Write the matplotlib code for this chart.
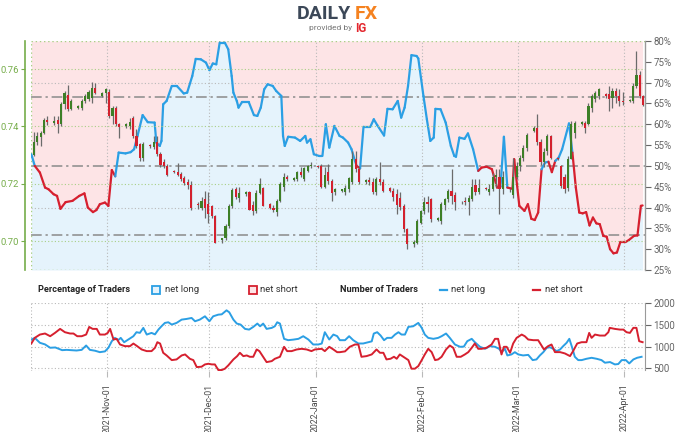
import matplotlib
matplotlib.use("Agg")
import matplotlib.pyplot as plt
import matplotlib.dates as mdates
from matplotlib.collections import LineCollection
from matplotlib.patches import Rectangle
from matplotlib.lines import Line2D
import numpy as np
import pandas as pd

# ---------------------------------------------------------------- data
START = "2021-10-10"          # day 0 of the day offsets below
X_RANGE_DAYS = (-0.1, 179.2)
MONTH_TICKS = ["2021-11-01", "2021-12-01", "2022-01-01", "2022-02-01",
               "2022-03-01", "2022-04-01"]

# daily candles, Sunday..Friday sessions, 2021-10-11 .. 2022-04-07
CANDLE_FIRST = "2021-10-11"
CANDLE_LAST = "2022-04-07"
OPEN = [
    .7301, .7345, .7362, .7376, .7424,
    .7413, .7424, .7407, .7477, .7511, .7459,
    .7465, .7465, .7488, .7494, .7500, .7535,
    .7506, .7517, .7520, .7436, .7465, .7407,
    .7400, .7401, .7430, .7366, .7337, .7291,
    .7334, .7328, .7345, .7302, .7275, .7262,
    .7245, .7240, .7233, .7220, .7205, .7195,
    .7130, .7115, .7145, .7128, .7122, .7087,
    .7003, .7010, .7052, .7122, .7180, .7150,
    .7163, .7170, .7125, .7105, .7168, .7185,
    .7130, .7115, .7100, .7140, .7190, .7225,
    .7214, .7215, .7240, .7215, .7245, .7262,
    .7262, .7262, .7190, .7240, .7210, .7170,
    .7175, .7170, .7180, .7205, .7285, .7250,
    .7205, .7212, .7205, .7170, .7215, .7205,
    .7185, .7176, .7163, .7150, .7122, .7041,
    .6990, .6994, .7064, .7105, .7138, .7145,
    .7075, .7070, .7125, .7145, .7175, .7160,
    .7135, .7140, .7135, .7145, .7195, .7172,
    .7185, .7170, .7180, .7225, .7225, .7180,
    .7185, .7160, .7222, .7262, .7290, .7325,
    .7385, .7395, .7345, .7275, .7314, .7366,
    .7290, .7262, .7225, .7186, .7287, .7378,
    .7410, .7411, .7410, .7465, .7494, .7506,
    .7512, .7512, .7500, .7523, .7506, .7490,
    .7488, .7490, .7541, .7581, .7506,
]
HIGH = [
    .7380, .7380, .7384, .7430, .7438,
    .7436, .7436, .7485, .7523, .7546, .7494,
    .7474, .7494, .7512, .7526, .7555, .7552,
    .7520, .7535, .7529, .7471, .7471, .7413,
    .7413, .7430, .7436, .7390, .7343, .7345,
    .7338, .7366, .7366, .7310, .7285, .7270,
    .7248, .7273, .7240, .7227, .7215, .7210,
    .7135, .7155, .7175, .7170, .7125, .7090,
    .7012, .7058, .7128, .7186, .7190, .7187,
    .7175, .7175, .7140, .7178, .7220, .7190,
    .7133, .7125, .7147, .7207, .7237, .7230,
    .7222, .7245, .7260, .7258, .7265, .7277,
    .7266, .7270, .7260, .7270, .7215, .7185,
    .7183, .7195, .7225, .7315, .7315, .7262,
    .7215, .7225, .7220, .7225, .7276, .7215,
    .7188, .7185, .7180, .7170, .7130, .7046,
    .7002, .7076, .7110, .7152, .7158, .7150,
    .7083, .7135, .7150, .7180, .7250, .7170,
    .7140, .7155, .7160, .7215, .7215, .7215,
    .7188, .7200, .7238, .7250, .7250, .7245,
    .7190, .7290, .7275, .7300, .7335, .7378,
    .7400, .7442, .7355, .7325, .7372, .7370,
    .7295, .7267, .7235, .7296, .7419, .7419,
    .7418, .7418, .7480, .7512, .7524, .7535,
    .7518, .7541, .7535, .7535, .7529, .7520,
    .7495, .7552, .7663, .7593, .7510,
]
LOW = [
    .7297, .7335, .7330, .7372, .7404,
    .7405, .7378, .7403, .7462, .7453, .7457,
    .7462, .7457, .7480, .7488, .7483, .7512,
    .7503, .7483, .7430, .7407, .7401, .7360,
    .7395, .7390, .7360, .7325, .7279, .7280,
    .7326, .7320, .7297, .7260, .7255, .7226,
    .7238, .7227, .7210, .7196, .7180, .7110,
    .7112, .7110, .7082, .7064, .7080, .6993,
    .6994, .7004, .7047, .7116, .7145, .7136,
    .7158, .7110, .7090, .7097, .7163, .7123,
    .7112, .7100, .7088, .7135, .7175, .7210,
    .7210, .7210, .7225, .7210, .7240, .7255,
    .7255, .7185, .7185, .7200, .7140, .7160,
    .7170, .7160, .7170, .7200, .7240, .7200,
    .7200, .7195, .7165, .7160, .7195, .7170,
    .7172, .7140, .7093, .7110, .7030, .6971,
    .6980, .6990, .7060, .7095, .7102, .7066,
    .7070, .7060, .7110, .7135, .7130, .7110,
    .7130, .7125, .7090, .7140, .7160, .7165,
    .7178, .7160, .7175, .7190, .7095, .7165,
    .7170, .7150, .7215, .7245, .7280, .7315,
    .7380, .7335, .7265, .7260, .7300, .7285,
    .7282, .7186, .7168, .7175, .7285, .7360,
    .7405, .7378, .7405, .7450, .7485, .7494,
    .7500, .7453, .7465, .7483, .7471, .7475,
    .7485, .7483, .7535, .7500, .7470,
]
CLOSE = [
    .7345, .7368, .7376, .7422, .7416,
    .7420, .7407, .7477, .7517, .7459, .7488,
    .7472, .7488, .7506, .7520, .7535, .7515,
    .7517, .7529, .7436, .7465, .7407, .7399,
    .7410, .7415, .7366, .7331, .7291, .7340,
    .7330, .7345, .7302, .7267, .7262, .7229,
    .7240, .7232, .7215, .7203, .7195, .7116,
    .7127, .7140, .7117, .7093, .7087, .6994,
    .7010, .7052, .7122, .7178, .7152, .7169,
    .7170, .7110, .7105, .7168, .7198, .7124,
    .7115, .7110, .7140, .7198, .7222, .7215,
    .7220, .7240, .7230, .7255, .7262, .7265,
    .7258, .7190, .7230, .7210, .7168, .7180,
    .7180, .7185, .7220, .7285, .7250, .7205,
    .7212, .7205, .7170, .7215, .7205, .7175,
    .7176, .7155, .7125, .7120, .7042, .6988,
    .6998, .7070, .7105, .7138, .7130, .7078,
    .7080, .7128, .7145, .7175, .7157, .7135,
    .7138, .7135, .7150, .7190, .7172, .7185,
    .7180, .7180, .7225, .7230, .7180, .7225,
    .7180, .7222, .7262, .7290, .7325, .7370,
    .7395, .7345, .7275, .7310, .7366, .7290,
    .7285, .7192, .7183, .7287, .7407, .7413,
    .7415, .7395, .7471, .7506, .7515, .7529,
    .7506, .7494, .7523, .7506, .7488, .7485,
    .7492, .7541, .7581, .7506, .7475,
]

# client sentiment: share of traders net long (%)
SENT_DAY = [
    0, 1, 2.5, 4, 5, 6.5, 7.5, 8.5, 10, 12,
    14, 15.5, 16.5, 18, 19, 20, 21.5, 22.5, 23.5, 24.5,
    25.5, 27.5, 29, 30, 31, 32.5, 34, 36, 36.5, 37.5,
    38, 38.5, 39.5, 41, 42.5, 44.5, 45.5, 47, 48, 49.5,
    51, 52, 53, 54, 55, 56.5, 57.5, 58.5, 59, 60,
    60.5, 61.5, 63.5, 65, 66, 67, 68, 69, 70.5, 71.5,
    73, 73.5, 74, 75, 77, 78.5, 80, 80.5, 81.5, 82.5,
    84, 85, 86, 87, 88.5, 90, 91, 92.5, 93.5, 94.5,
    95, 96, 97, 99, 100, 101, 103, 104, 105.5, 107,
    108, 109, 110, 111, 112.5, 113, 114.5, 115.5, 116.5, 117.5,
    118, 119.5, 121, 122.5, 123.5, 124, 125, 126.5, 127.5, 129,
    130.5, 131.5, 133, 134.5, 136, 137, 138, 139, 140.5, 141,
    142.5, 144, 145, 146, 147, 148, 149, 150, 151, 152,
    153, 154, 155, 157, 158, 159, 160, 161, 162, 163,
    164, 165, 166, 167, 168, 169, 170, 171, 172, 173.5,
    174.5, 176, 177, 178, 178.5,
]
SENT_LONG_PCT = [
    52.8, 50.0, 48.4, 44.8, 44.4, 43.2, 42.8, 39.7, 41.3, 41.6,
    42.8, 43.4, 40.0, 38.9, 39.4, 40.8, 41.2, 40.4, 49.0, 47.5,
    53.2, 53.0, 53.3, 54.0, 57.2, 62.2, 60.5, 60.4, 55.6, 54.8,
    56.0, 64.8, 65.6, 69.2, 69.2, 67.4, 67.6, 71.6, 75.7, 75.6,
    74.8, 73.0, 74.6, 74.4, 79.6, 79.6, 78.0, 71.6, 67.6, 65.6,
    64.0, 65.3, 65.3, 62.2, 62.0, 64.0, 68.4, 69.6, 69.2, 68.0,
    66.8, 57.2, 54.8, 57.0, 56.8, 56.0, 57.2, 55.6, 56.4, 52.8,
    52.4, 52.4, 60.0, 54.4, 59.6, 57.2, 56.8, 55.6, 54.0, 51.2,
    50.0, 49.4, 59.4, 59.4, 61.2, 59.8, 57.3, 63.7, 63.6, 65.6,
    61.6, 64.0, 69.2, 76.6, 76.4, 75.8, 66.8, 61.2, 56.0, 56.8,
    63.7, 63.6, 60.4, 54.8, 52.4, 52.2, 56.8, 56.5, 57.8, 54.0,
    48.8, 49.6, 49.8, 49.2, 44.8, 45.0, 57.0, 44.8, 44.5, 51.6,
    40.4, 39.2, 40.8, 37.3, 37.0, 38.8, 49.2, 50.8, 51.0, 48.5,
    51.2, 52.0, 54.0, 60.2, 53.2, 44.8, 38.8, 38.6, 38.9, 35.7,
    37.6, 36.2, 36.0, 33.2, 33.0, 30.0, 29.0, 29.2, 31.7, 31.7,
    32.2, 33.2, 33.3, 40.4, 40.5,
]

# number of traders
NUM_LONG_DAY = [
    0, 1, 2.5, 4, 5.5, 7, 9, 10.3, 13.2, 14.7,
    16, 17.1, 18.6, 20, 21.5, 22.5, 23.5, 24.4, 25.4, 26.1,
    27.1, 28.3, 29.8, 30.7, 31.7, 32.7, 33.7, 35.1, 36.1, 37.1,
    38, 39, 40, 41, 42.4, 43.9, 45.3, 46.8, 47.8, 49.2,
    50.7, 52, 53.1, 54.6, 55.6, 56.3, 57, 57.8, 59, 60,
    61.1, 62.4, 63.6, 64.8, 66, 66.8, 67.7, 68.7, 70.2, 71.1,
    71.8, 72.6, 73.8, 75, 76.5, 78, 79.4, 80.9, 82.3, 83.8,
    84.8, 85.7, 87, 88.2, 89.3, 90.1, 91.6, 92.8, 94, 95.5,
    96.9, 98.4, 99.4, 100, 101, 102, 103, 103.9, 105.2, 106.2,
    107.2, 108.1, 109.1, 110.1, 111.5, 113, 114, 114.9, 115.9, 117.4,
    118.8, 119.8, 121.1, 122.2, 123.7, 125.2, 126.3, 127.3, 128.6, 129.5,
    131, 132.5, 133.9, 135.4, 136.6, 137.3, 138.3, 139, 140.2, 141.2,
    142.2, 143.6, 145.1, 146.4, 147.5, 148.5, 149.5, 150.5, 151.4, 152.4,
    153.4, 154.4, 155.3, 156.3, 157.1, 157.8, 158.7, 159.7, 160.7, 162.1,
    163.6, 165.1, 166.5, 167.5, 169, 170.4, 171.4, 172.4, 173.6, 174.6,
    175.8, 176.9, 178.2,
]
NUM_LONG = [
    1162, 1200, 1087, 1050, 973, 980, 918, 925, 910, 925,
    1025, 925, 905, 872, 890, 973, 1124, 1200, 1150, 1200,
    1100, 1162, 1238, 1330, 1315, 1429, 1276, 1314, 1280, 1390,
    1466, 1543, 1558, 1505, 1543, 1619, 1634, 1657, 1581, 1619,
    1695, 1581, 1695, 1733, 1740, 1786, 1832, 1786, 1619, 1528,
    1505, 1406, 1390, 1451, 1528, 1466, 1528, 1406, 1429, 1466,
    1558, 1528, 1178, 1147, 1160, 1178, 1238, 1162, 1048, 1048,
    1070, 1330, 1162, 1276, 1240, 1147, 1147, 1238, 1147, 1071,
    1071, 1101, 1120, 1299, 1330, 1253, 1147, 1200, 1200, 1276,
    1330, 1276, 1276, 1452, 1466, 1543, 1429, 1276, 1200, 1178,
    1200, 1238, 1300, 1200, 1048, 995, 1000, 1124, 1178, 1101,
    995, 949, 1010, 995, 949, 872, 949, 797, 820, 872,
    820, 797, 810, 690, 705, 797, 872, 972, 985, 949,
    896, 934, 1010, 1086, 1178, 1010, 767, 690, 690, 720,
    743, 720, 690, 630, 645, 591, 600, 690, 690, 614,
    705, 743, 766,
]
NUM_SHORT_DAY = [
    0, 1, 2.5, 4, 5.5, 6.9, 8.4, 9.8, 11.3, 12.3,
    13.4, 14.7, 16, 16.9, 17.9, 19.1, 20, 21.5, 22.3, 23,
    24, 24.9, 25.9, 27.3, 28.8, 29.8, 30.9, 32.2, 33.7, 35.1,
    36.1, 36.8, 37.6, 38.5, 39.5, 41, 42.4, 43.9, 44.9, 46.3,
    47.3, 48.3, 49.7, 50.7, 51.7, 52.7, 53.6, 54.6, 55.6, 56.5,
    57.5, 59, 60.1, 60.9, 61.9, 62.9, 63.8, 64.8, 65.8, 66.6,
    67.7, 68.7, 70.2, 71.1, 72.6, 73.8, 74.7, 76, 77.5, 78.9,
    80.4, 81.8, 82.8, 84.8, 85.7, 87, 88.2, 89.3, 90.1, 91.6,
    93, 94.5, 95.5, 96.4, 97.9, 99.4, 100.8, 101.8, 102.8, 103.7,
    104.9, 105.9, 106.7, 107.6, 109.1, 110.1, 111, 112, 113, 114,
    114.9, 115.9, 116.9, 117.9, 118.8, 119.8, 121.1, 122.2, 123.2, 124.2,
    125.4, 126.6, 127.6, 128.6, 129.5, 130.5, 131.5, 132.9, 134.4, 135.4,
    136.3, 137.3, 138, 138.8, 139.8, 140.7, 141.7, 143.2, 144.1, 145.1,
    146.6, 148, 149.7, 150.9, 151.9, 152.9, 154.4, 155.8, 157.3, 158.2,
    159.4, 160.7, 162.1, 162.9, 163.6, 164.6, 166, 167.5, 168.5, 168.9,
    170.4, 171.9, 172.9, 173.8, 174.8, 175.8, 176.7, 177.5, 178.5,
]
NUM_SHORT = [
    1071, 1200, 1276, 1300, 1238, 1314, 1406, 1330, 1300, 1300,
    1238, 1238, 1276, 1451, 1406, 1406, 1276, 1276, 1314, 1406,
    1162, 1178, 1048, 1010, 1010, 1070, 1010, 934, 896, 896,
    972, 1101, 1070, 858, 797, 690, 705, 797, 820, 720,
    690, 530, 538, 591, 606, 591, 591, 462, 462, 492,
    568, 705, 781, 858, 781, 797, 766, 766, 934, 896,
    766, 644, 667, 720, 766, 995, 896, 896, 934, 949,
    934, 896, 934, 949, 896, 995, 934, 872, 872, 890,
    995, 1048, 1048, 766, 782, 820, 934, 858, 858, 706,
    721, 767, 721, 820, 743, 690, 493, 493, 553, 690,
    820, 949, 873, 690, 705, 766, 934, 1025, 972, 766,
    766, 820, 873, 972, 1070, 949, 949, 972, 1048, 1178,
    1178, 820, 995, 995, 858, 1071, 1200, 1276, 1238, 1162,
    1147, 1147, 934, 1010, 1048, 873, 873, 843, 782, 896,
    1071, 1101, 1101, 1314, 1200, 1276, 1253, 1253, 1330, 1430,
    1406, 1390, 1390, 1330, 1314, 1430, 1430, 1124, 1101,
]

PRICE_TICKS = [0.70, 0.72, 0.74, 0.76]
PCT_TICKS = [25, 30, 35, 40, 45, 50, 55, 60, 65, 70, 75, 80]
PCT_LEVELS = [100 / 3, 50, 200 / 3]
NUM_TICKS = [500, 1000, 1500, 2000]

# ---------------------------------------------------------------- style
PINK = "#fde4e6"
PALE_BLUE = "#e5f3fc"
BLUE = "#2b9fe4"
RED = "#d6202f"
C_UP = "#3d7f27"
C_DOWN = "#d3212e"
WICK = "#6b6b6b"
GREEN = "#76ad4a"
GREY = "#666666"
GRID = "#b9b9b9"

W_PX, H_PX = 679, 432
CANDLE_SHIFT = -0.3
CANDLE_WIDTH = 0.62


def box(x0, y0, x1, y1):
    return [x0 / W_PX, 1 - y1 / H_PX, (x1 - x0) / W_PX, (y1 - y0) / H_PX]


def main() -> None:
    plt.rcParams.update({"font.family": ["Roboto", "DejaVu Sans"], "font.size": 7})
    base = mdates.date2num(pd.Timestamp(START))
    xlim = (base + X_RANGE_DAYS[0], base + X_RANGE_DAYS[1])
    month_pos = mdates.date2num(pd.to_datetime(MONTH_TICKS))

    candle_days = pd.bdate_range(CANDLE_FIRST, CANDLE_LAST, freq="C",
                                 weekmask="Sun Mon Tue Wed Thu Fri")
    o, h, l, c = (np.array(v) for v in (OPEN, HIGH, LOW, CLOSE))
    cx = mdates.date2num(candle_days) + CANDLE_SHIFT

    fig = plt.figure(figsize=(W_PX / 100, H_PX / 100), dpi=100)

    # ------------------------------------------------ upper panel
    ax_pct = fig.add_axes(box(31, 41, 645, 270))
    ax_px = ax_pct.twinx()

    sx = base + np.array(SENT_DAY)
    sy = np.array(SENT_LONG_PCT)
    ax_pct.fill_between(sx, sy, 80, color=PINK, lw=0, zorder=0)
    ax_pct.fill_between(sx, 25, sy, color=PALE_BLUE, lw=0, zorder=0)
    for lev in PCT_LEVELS:
        ax_pct.axhline(lev, color="#8a8a8a", lw=1.1, ls=(0, (7, 2.5, 1.5, 2.5)), zorder=1)
    for lev in (40, 70):
        ax_pct.axhline(lev, color=GRID, lw=0.8, ls=(0, (1, 2)), zorder=1)

    pts = np.column_stack([sx, sy])
    segs = np.stack([pts[:-1], pts[1:]], axis=1)
    mid = (sy[:-1] + sy[1:]) / 2
    seg_cols = [BLUE if m >= 50 else RED for m in mid]
    ax_pct.add_collection(LineCollection(segs, colors=seg_cols, lw=1.6, zorder=2,
                                         capstyle="round", joinstyle="round"))
    ax_pct.set_ylim(25, 80)
    ax_pct.set_yticks(PCT_TICKS)
    ax_pct.set_yticklabels([f"{t}%" for t in PCT_TICKS])
    ax_pct.yaxis.tick_right()
    ax_pct.tick_params(axis="y", colors=GREY, labelcolor=GREY, length=4, width=0.8,
                       pad=2, labelsize=7)
    ax_pct.tick_params(axis="x", bottom=False, labelbottom=False)

    # candles
    ax_px.yaxis.tick_left()
    ax_px.vlines(cx, l, h, color=WICK, lw=0.9, zorder=3)
    body_h = np.maximum(np.abs(c - o), 0.00025)
    ax_px.bar(cx, body_h, bottom=np.minimum(o, c), width=CANDLE_WIDTH,
              color=np.where(c >= o, C_UP, C_DOWN), lw=0, zorder=4)
    ax_px.set_ylim(0.6899, 0.7698)
    ax_px.set_yticks(PRICE_TICKS)
    ax_px.set_yticklabels([f"{t:.2f}" for t in PRICE_TICKS])
    ax_px.tick_params(axis="y", colors=GREEN, labelcolor=GREEN, length=3, width=0.8,
                      pad=1.5, labelsize=6.8)
    for t in ax_px.get_yticklabels():
        t.set_fontweight("bold")
    for lev in PRICE_TICKS:
        ax_px.axhline(lev, color="#a9cf86", lw=0.8, ls=(0, (1, 2)), zorder=1)

    for a in (ax_pct, ax_px):
        a.set_xlim(*xlim)
        for s in a.spines.values():
            s.set_visible(False)
    ax_px.spines["left"].set_visible(True)
    ax_px.spines["left"].set_color(GREEN)
    ax_px.spines["left"].set_linewidth(1.2)
    ax_px.spines["left"].set_position(("outward", 4))
    ax_pct.spines["right"].set_visible(True)
    ax_pct.spines["right"].set_color("#9a9a9a")
    ax_pct.spines["right"].set_linewidth(1.0)
    ax_pct.axhline(80, color="#a9cf86", lw=1.0, ls=(0, (1, 2)), zorder=1)
    ax_pct.axhline(25, color="#a9cf86", lw=1.0, ls=(0, (1, 2)), zorder=1)
    ax_pct.axvline(xlim[0], color="#a9cf86", lw=1.0, ls=(0, (1, 2)), zorder=1)
    for m in month_pos:
        ax_pct.axvline(m, color=GRID, lw=0.8, ls=(0, (1, 2)), zorder=1)

    # ------------------------------------------------ lower panel
    ax_n = fig.add_axes(box(31, 303, 645, 371))
    ax_n.plot(base + np.array(NUM_LONG_DAY), NUM_LONG, color=BLUE, lw=1.4, zorder=3)
    ax_n.plot(base + np.array(NUM_SHORT_DAY), NUM_SHORT, color=RED, lw=1.4, zorder=3)
    ax_n.set_xlim(*xlim)
    ax_n.set_ylim(440, 2000)
    ax_n.set_yticks(NUM_TICKS)
    ax_n.yaxis.tick_right()
    ax_n.tick_params(axis="y", colors=GREY, labelcolor=GREY, length=4, width=0.8,
                     pad=2, labelsize=7)
    ax_n.set_xticks(month_pos)
    ax_n.xaxis.set_major_formatter(mdates.DateFormatter("%Y-%b-%d"))
    ax_n.tick_params(axis="x", colors=GRID, labelcolor="#4a4a4a", length=4,
                     labelrotation=90, labelsize=6.3, pad=5)
    for lev in NUM_TICKS:
        ax_n.axhline(lev, color=GRID, lw=0.8, ls=(0, (1, 2)), zorder=1)
    for m in month_pos:
        ax_n.axvline(m, color=GRID, lw=0.8, ls=(0, (1, 2)), zorder=1)
    for s in ax_n.spines.values():
        s.set_visible(False)
    ax_n.axvline(xlim[0], color=GRID, lw=0.8, ls=(0, (1, 2)), zorder=1)
    ax_n.axhline(440, color=GRID, lw=0.8, ls=(0, (1, 2)), zorder=1)
    ax_n.spines["right"].set_visible(True)
    ax_n.spines["right"].set_color("#9a9a9a")
    ax_n.spines["right"].set_bounds(470, 2000)

    # ------------------------------------------------ legend row
    ly = 1 - 290 / H_PX
    fig.text(38 / W_PX, ly, "Percentage of Traders", weight="bold", va="center",
             fontsize=6.6, color="#222222")
    fig.text(340 / W_PX, ly, "Number of Traders", weight="bold", va="center",
             fontsize=6.6, color="#222222")
    for x0, fc, ec in ((152, PALE_BLUE, BLUE), (249, PINK, RED)):
        fig.add_artist(Rectangle((x0 / W_PX, 1 - 294 / H_PX), 8 / W_PX, 8 / H_PX,
                                 transform=fig.transFigure, facecolor=fc,
                                 edgecolor=ec, lw=1.3))
    fig.text(165 / W_PX, ly, "net long", va="center", fontsize=6.8, color="#333333")
    fig.text(260 / W_PX, ly, "net short", va="center", fontsize=6.8, color="#333333")
    for x0, col in ((440, BLUE), (533, RED)):
        fig.add_artist(Line2D([x0 / W_PX, (x0 + 7) / W_PX], [ly, ly],
                              transform=fig.transFigure, color=col, lw=1.6))
    fig.text(451 / W_PX, ly, "net long", va="center", fontsize=6.8, color="#333333")
    fig.text(545 / W_PX, ly, "net short", va="center", fontsize=6.8, color="#333333")

    # ------------------------------------------------ logo
    fig.text(297 / W_PX, 1 - 14 / H_PX, "DAILY", fontsize=14, weight="bold",
             color="#3c4858", va="center", ha="left")
    fig.text(355 / W_PX, 1 - 14 / H_PX, "FX", fontsize=14, weight="bold",
             color="#f58220", va="center", ha="left")
    fig.text(352 / W_PX, 1 - 28 / H_PX, "provided by", fontsize=6, color="#777777",
             va="center", ha="right")
    fig.text(355 / W_PX, 1 - 28 / H_PX, "IG", fontsize=8.5, weight="bold",
             color="#e3262d", va="center", ha="left")

    fig.savefig("out.png", dpi=100)
    plt.close(fig)


if __name__ == "__main__":
    main()
